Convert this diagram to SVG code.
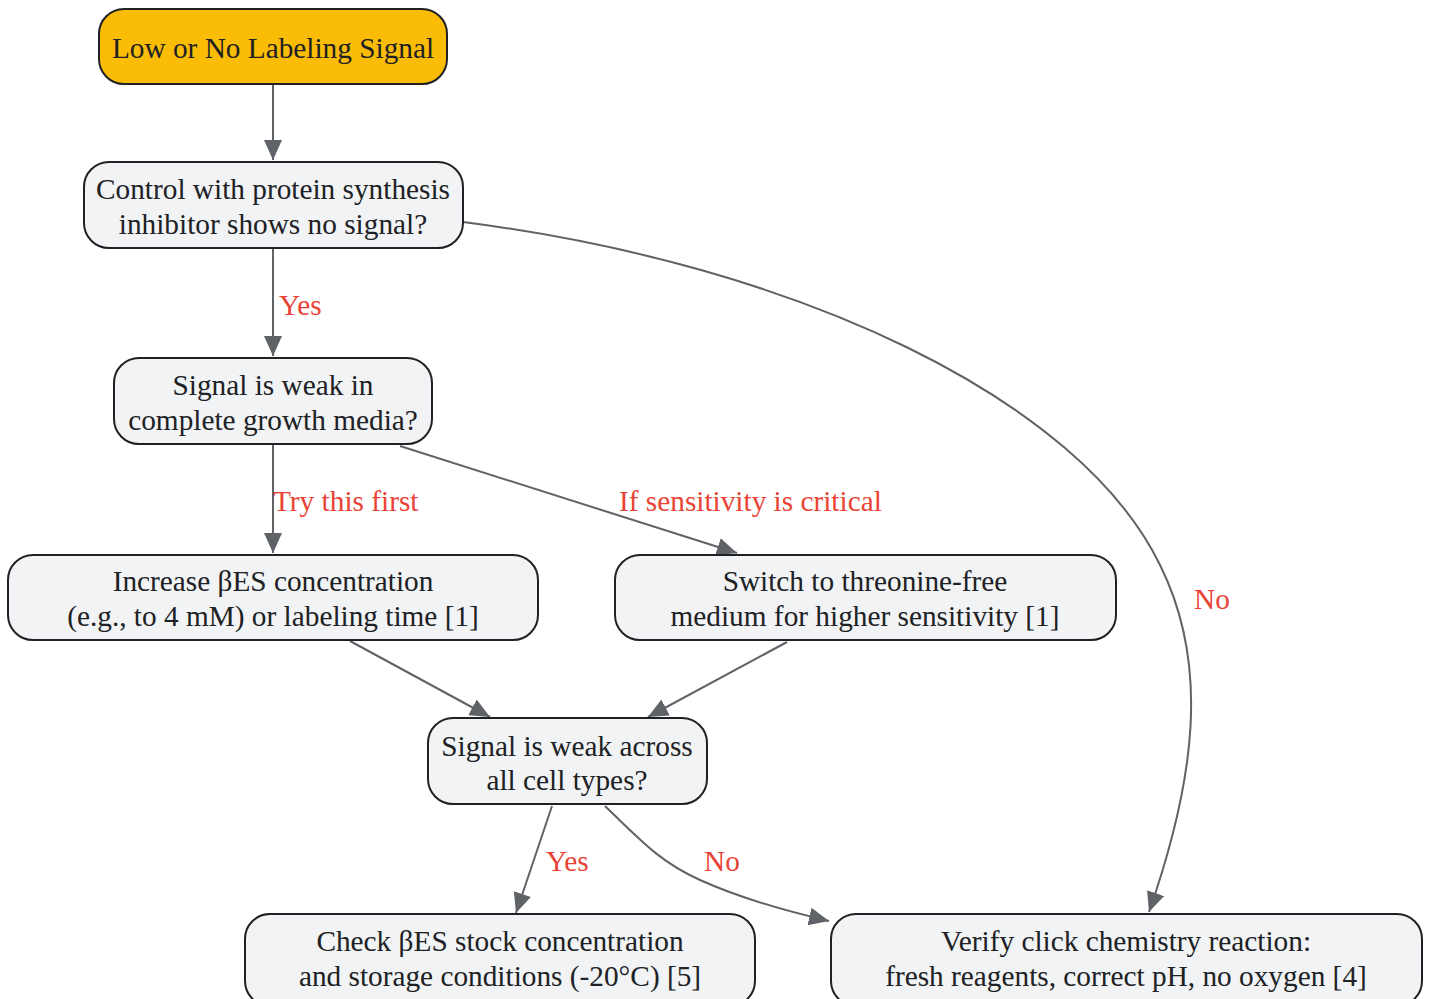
<svg xmlns="http://www.w3.org/2000/svg" width="1431" height="999" viewBox="0 0 1431 999">
<style>
.n rect{fill:#F1F3F4;stroke:#202124;stroke-width:2}
.n.start rect{fill:#FBBC05}
.n text{font-family:"Liberation Serif","Times New Roman",serif;font-size:29.3px;fill:#202124;text-anchor:middle}
.e path{fill:none;stroke:#5F6368;stroke-width:2;marker-end:url(#ah)}
.lbl{font-family:"Liberation Serif","Times New Roman",serif;font-size:29.3px;fill:#EA4335}
</style>
<defs>
<marker id="ah" markerUnits="userSpaceOnUse" markerWidth="21" markerHeight="19" refX="20" refY="9" orient="auto" viewBox="0 0 21 18">
<path d="M0,0 L20,9 L0,18 z" fill="#5F6368"/>
</marker>
</defs>
<g id="edges" class="e">
<path d="M273,85 L273,160"/>
<path d="M273,249 L273,356"/>
<path d="M273,445 L273,553"/>
<path d="M400,446 L737,553"/>
<path d="M463,222 C 800,265 1080,400 1160,565 C 1210,665 1195,780 1149,912"/>
<path d="M350,641 L490,717"/>
<path d="M787,642 L648,717"/>
<path d="M552,806 L516,913"/>
<path d="M605,806 C 640,840 660,862 700,880 C 740,898 790,912 829,921"/>
</g>
<g id="labels">
<text class="lbl" x="279" y="315">Yes</text>
<text class="lbl" x="273" y="511">Try this first</text>
<text class="lbl" x="619" y="511">If sensitivity is critical</text>
<text class="lbl" x="1194" y="609">No</text>
<text class="lbl" x="546" y="871">Yes</text>
<text class="lbl" x="704" y="871">No</text>
</g>
<g id="n1" class="n start"><rect x="99" y="9" width="348" height="75" rx="25"/><text x="273" y="58">Low or No Labeling Signal</text></g>
<g id="n2" class="n"><rect x="84" y="162" width="379" height="86" rx="25"/><text x="273" y="199">Control with protein synthesis</text><text x="273" y="234">inhibitor shows no signal?</text></g>
<g id="n3" class="n"><rect x="114" y="358" width="318" height="86" rx="25"/><text x="273" y="395">Signal is weak in</text><text x="273" y="430">complete growth media?</text></g>
<g id="n4" class="n"><rect x="8" y="555" width="530" height="85" rx="25"/><text x="273" y="591">Increase βES concentration</text><text x="273" y="626">(e.g., to 4 mM) or labeling time [1]</text></g>
<g id="n5" class="n"><rect x="615" y="555" width="501" height="85" rx="25"/><text x="865" y="591">Switch to threonine-free</text><text x="865" y="626">medium for higher sensitivity [1]</text></g>
<g id="n6" class="n"><rect x="428" y="718" width="279" height="86" rx="25"/><text x="567" y="756">Signal is weak across</text><text x="567" y="790">all cell types?</text></g>
<g id="n7" class="n"><rect x="245" y="914" width="510" height="92" rx="25"/><text x="500" y="951">Check βES stock concentration</text><text x="500" y="986">and storage conditions (-20°C) [5]</text></g>
<g id="n8" class="n"><rect x="831" y="914" width="591" height="92" rx="25"/><text x="1126" y="951">Verify click chemistry reaction:</text><text x="1126" y="986">fresh reagents, correct pH, no oxygen [4]</text></g>
</svg>
